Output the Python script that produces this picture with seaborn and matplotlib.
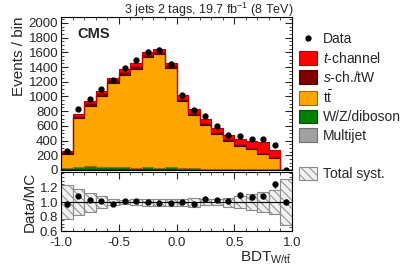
import numpy as np
import pandas as pd
import matplotlib
matplotlib.use("Agg")
import matplotlib.pyplot as plt
import seaborn as sns
from matplotlib.patches import Patch
from matplotlib.lines import Line2D
from matplotlib.ticker import MultipleLocator, FixedLocator, FormatStrFormatter

# binning of the BDT output
edges = np.linspace(-1.0, 1.0, 21)
centers = 0.5 * (edges[:-1] + edges[1:])

# stacked MC components (events / bin)
multijet = [8, 10, 12, 12, 10, 10, 8, 10, 8, 8, 6, 5, 5, 4, 4, 3, 3, 2, 2, 0]
wz = [18, 24, 42, 34, 30, 24, 16, 35, 24, 28, 18, 16, 14, 12, 12, 10, 10, 8, 6, 0]
ttbar = [187, 669, 816, 961, 1148, 1258, 1355, 1492, 1542, 1356, 915, 727, 593, 478, 379, 314, 268, 203, 160, 2]
sch_tw = [25, 30, 35, 35, 35, 38, 38, 35, 35, 32, 30, 28, 28, 25, 22, 22, 22, 22, 15, 0]
tchan = [22, 24, 34, 33, 33, 40, 43, 38, 42, 36, 47, 49, 58, 57, 55, 68, 92, 150, 85, 1]

data = [252, 825, 967, 1097, 1218, 1384, 1489, 1610, 1634, 1445, 1016, 809, 733, 593, 477, 459, 423, 416, 335, 3]
ratio_err = [0.03, 0.03, 0.02, 0.02, 0.02, 0.02, 0.02, 0.02, 0.02, 0.02, 0.02, 0.02, 0.03, 0.03, 0.03, 0.04, 0.04, 0.04, 0.05, 0.04]
# relative total systematic uncertainty per bin
syst = [0.24, 0.18, 0.13, 0.08, 0.04, 0.03, 0.04, 0.05, 0.05, 0.05, 0.05, 0.06, 0.04, 0.04, 0.06, 0.08, 0.11, 0.14, 0.17, 0.32]

procs = ["t-channel", "s-ch./tW", "ttbar", "W/Z/diboson", "Multijet"]
colors = {"t-channel": "#ff0000", "s-ch./tW": "#800000", "ttbar": "#ffa500",
          "W/Z/diboson": "#008000", "Multijet": "#a0a0a0"}
edgecols = {"t-channel": "#c00000", "s-ch./tW": "#500000", "ttbar": "#a06a00",
            "W/Z/diboson": "#005000", "Multijet": "#707070"}
labels = {"t-channel": "$t$-channel", "s-ch./tW": "$s$-ch./tW", "ttbar": r"$\mathrm{t\bar{t}}$",
          "W/Z/diboson": "W/Z/diboson", "Multijet": "Multijet"}

df = pd.DataFrame({
    "bdt": np.tile(centers, len(procs)),
    "w": np.concatenate([tchan, sch_tw, ttbar, wz, multijet]).astype(float),
    "proc": np.repeat(procs, len(centers)),
})

total = np.array(tchan) + np.array(sch_tw) + np.array(ttbar) + np.array(wz) + np.array(multijet)
data = np.array(data, dtype=float)
ratio = data / total

sns.set_theme(style="ticks")
plt.rcParams["font.family"] = ["Liberation Sans", "DejaVu Sans"]
plt.rcParams["mathtext.fontset"] = "custom"
plt.rcParams["mathtext.rm"] = "Liberation Sans"
plt.rcParams["mathtext.it"] = "Liberation Sans:italic"
plt.rcParams["axes.unicode_minus"] = False
plt.rcParams["hatch.color"] = "#8a8a8a"
plt.rcParams["hatch.linewidth"] = 0.7

W, H = 407, 271
fig = plt.figure(figsize=(W / 100, H / 100), dpi=100)
ax = fig.add_axes([61 / W, 1 - 170 / H, (292 - 61) / W, (170 - 17) / H])
rax = fig.add_axes([61 / W, 1 - 231 / H, (292 - 61) / W, (231 - 172) / H])

sns.histplot(df, x="bdt", weights="w", hue="proc", hue_order=procs, multiple="stack",
             binwidth=0.1, binrange=(-1.0, 1.0), element="step", palette=colors, alpha=1,
             linewidth=0.8, legend=False, ax=ax)
# darker outline for every component
fc2proc = {matplotlib.colors.to_hex(c): p for p, c in colors.items()}
for coll in ax.collections:
    fc = matplotlib.colors.to_hex(coll.get_facecolor()[0])
    if fc in fc2proc:
        coll.set_edgecolor(edgecols[fc2proc[fc]])

ax.errorbar(centers, data, yerr=np.sqrt(data), fmt="o", color="black", ms=3.5,
            elinewidth=1, capsize=0, zorder=5)

ax.set_xlim(-1.0, 1.0)
ax.set_ylim(0, 2080)
ax.set_xlabel("")
ax.set_ylabel("Events / bin", fontsize=11, loc="top", labelpad=2)
ax.yaxis.set_major_locator(MultipleLocator(200))
ax.yaxis.set_minor_locator(MultipleLocator(50))
ax.xaxis.set_major_locator(MultipleLocator(0.5))
ax.xaxis.set_minor_locator(MultipleLocator(0.1))
ax.tick_params(labelbottom=False)
ax.text(0.07, 0.935, "CMS", transform=ax.transAxes, fontsize=10.5, fontweight="bold", va="top")

# ratio panel
rax.bar(centers, 2 * np.array(syst), bottom=1 - np.array(syst), width=0.1,
        facecolor="#f0f0f0", edgecolor="#8a8a8a", hatch="\\\\\\\\", linewidth=0.8)
rax.axhline(1.0, color="black", lw=0.8)
rax.errorbar(centers, ratio, yerr=ratio_err, fmt="o", color="black", ms=3.5,
             elinewidth=1, capsize=0, zorder=5)
rax.set_xlim(-1.0, 1.0)
rax.set_ylim(0.6, 1.42)
rax.set_ylabel("Data/MC", fontsize=11, loc="top", labelpad=2)
rax.set_xlabel(r"BDT$_{\mathrm{W/t\bar{t}}}$", fontsize=11, loc="right", labelpad=1)
rax.xaxis.set_major_locator(MultipleLocator(0.5))
rax.xaxis.set_minor_locator(MultipleLocator(0.1))
rax.xaxis.set_major_formatter(FormatStrFormatter("%.1f"))
rax.yaxis.set_major_locator(FixedLocator([0.6, 0.8, 1.0, 1.2]))
rax.yaxis.set_major_formatter(FormatStrFormatter("%.1f"))
rax.yaxis.set_minor_locator(MultipleLocator(0.05))

for a in (ax, rax):
    a.tick_params(which="both", direction="in", top=True, right=True, labelsize=9.5, pad=2)
    a.tick_params(which="major", length=5, width=0.8)
    a.tick_params(which="minor", length=2.5, width=0.6)
    for s in a.spines.values():
        s.set_linewidth(0.8)
        s.set_color("black")
rax.tick_params(axis="x", which="major", pad=4)

fig.text(293 / W, 1 - 10 / H, r"3 jets 2 tags, 19.7 fb$^{-1}$ (8 TeV)", ha="right", va="center", fontsize=9)

handles = [Line2D([], [], marker="o", ls="none", color="black", ms=3.5)]
handles += [Patch(facecolor=colors[p], edgecolor=edgecols[p], lw=0.8) for p in procs]
fig.legend(handles, ["Data"] + [labels[p] for p in procs], loc="upper left",
           bbox_to_anchor=(299 / W, 1 - 32 / H), frameon=False, fontsize=10,
           handlelength=1.3, handleheight=1.1, handletextpad=0.4, labelspacing=0.3,
           borderaxespad=0, borderpad=0)
fig.legend([Patch(facecolor="#f0f0f0", edgecolor="#8a8a8a", hatch="\\\\\\\\", lw=0.8)], ["Total syst."],
           loc="upper left", bbox_to_anchor=(299 / W, 1 - 167 / H), frameon=False, fontsize=10,
           handlelength=1.3, handleheight=1.1, handletextpad=0.4, borderaxespad=0, borderpad=0)

fig.savefig("out.png", dpi=100)
